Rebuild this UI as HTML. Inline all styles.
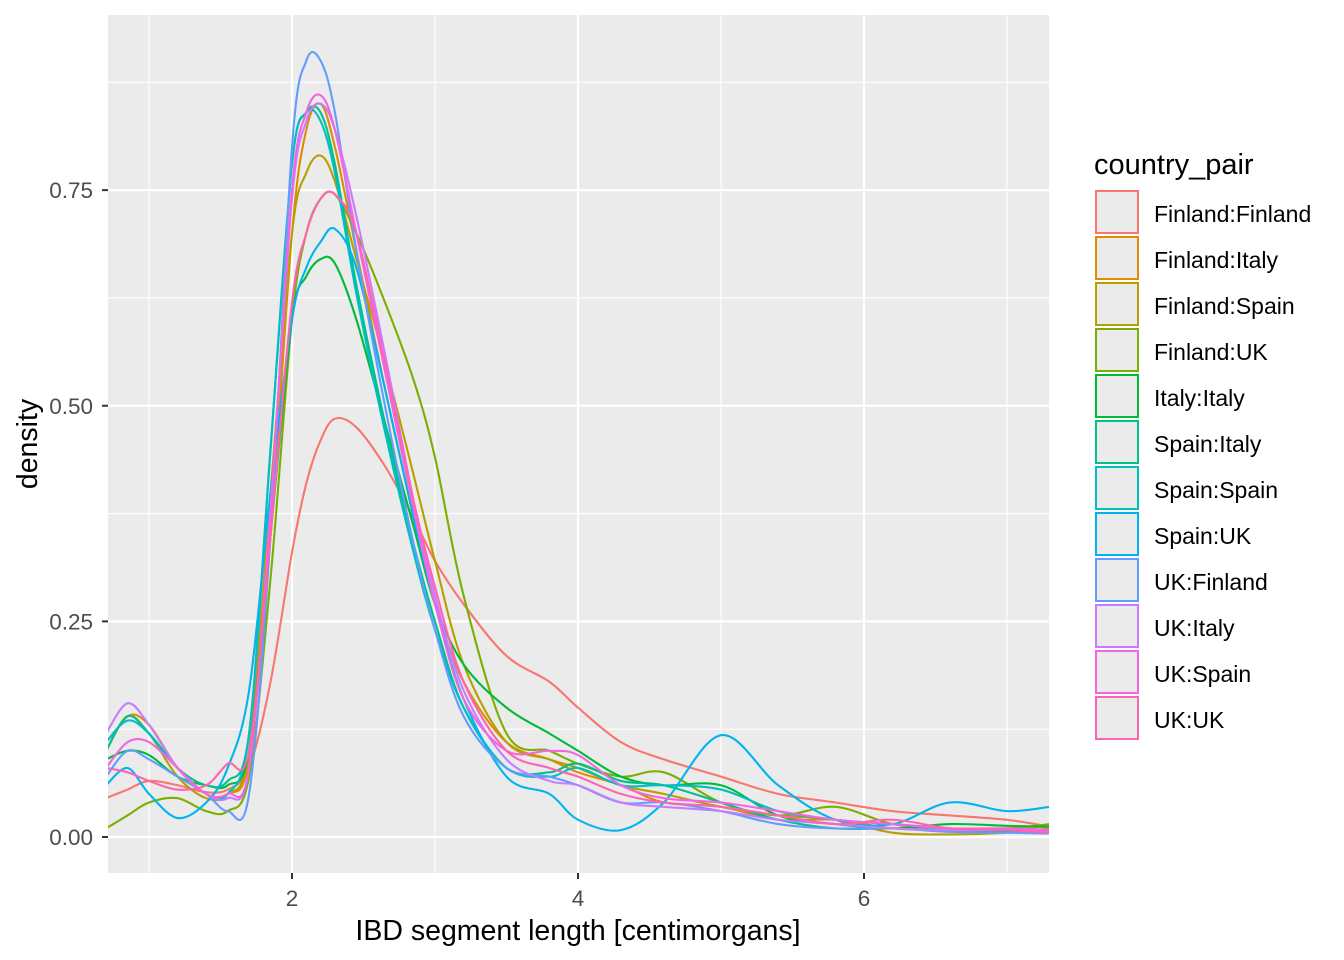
<!DOCTYPE html>
<html><head><meta charset="utf-8"><style>
body{margin:0;background:#fff;font-family:"Liberation Sans",Arial,sans-serif}
svg{display:block}
</style></head><body>
<svg id="chart" width="1344" height="960">
<defs><clipPath id="pc"><rect x="108" y="15" width="941" height="858"/></clipPath></defs>
<rect x="108" y="15" width="941" height="858" fill="#EBEBEB"/>
<g id="grid"></g>
<g id="series" clip-path="url(#pc)"></g>
<g id="axes"></g>
<text x="578" y="940" font-size="28.5" text-anchor="middle" fill="#000">IBD segment length [centimorgans]</text>
<text transform="translate(37,444) rotate(-90)" font-size="28.5" text-anchor="middle" fill="#000">density</text>
<g id="legend">
<text x="1094" y="174" font-size="29" fill="#000">country_pair</text>
</g>
</svg>
<script>
const names=["Finland:Finland","Finland:Italy","Finland:Spain","Finland:UK","Italy:Italy","Spain:Italy","Spain:Spain","Spain:UK","UK:Finland","UK:Italy","UK:Spain","UK:UK"];
const colors=["#F8766D","#DE8C00","#B79F00","#7CAE00","#00BA38","#00C08B","#00BFC4","#00B4F0","#619CFF","#C77CFF","#F564E3","#FF64B0"];
const xGrid=[0.7,0.85,1.0,1.2,1.4,1.55,1.7,1.85,2.0,2.1,2.2,2.3,2.45,2.65,2.85,3.0,3.2,3.5,3.8,4.0,4.3,4.6,5.0,5.4,5.8,6.2,6.6,7.0,7.3];
const sFF=[0.045,0.055,0.065,0.06,0.052,0.055,0.08,0.18,0.33,0.41,0.46,0.485,0.475,0.43,0.37,0.32,0.27,0.21,0.18,0.15,0.11,0.09,0.07,0.05,0.04,0.03,0.025,0.02,0.012];
const sFI=[0.1,0.14,0.13,0.08,0.05,0.05,0.09,0.35,0.7,0.82,0.85,0.8,0.68,0.52,0.37,0.27,0.18,0.11,0.09,0.075,0.06,0.04,0.035,0.02,0.02,0.01,0.008,0.01,0.012];
const sFS=[0.1,0.14,0.12,0.07,0.045,0.05,0.1,0.4,0.7,0.77,0.79,0.76,0.67,0.55,0.42,0.32,0.2,0.11,0.09,0.08,0.06,0.05,0.035,0.025,0.02,0.005,0.003,0.005,0.01];
const sFU=[0.01,0.025,0.04,0.045,0.03,0.03,0.07,0.3,0.6,0.7,0.74,0.745,0.7,0.62,0.53,0.44,0.28,0.12,0.1,0.085,0.07,0.075,0.04,0.025,0.035,0.015,0.01,0.01,0.015];
const sII=[0.09,0.1,0.095,0.07,0.06,0.06,0.1,0.35,0.6,0.65,0.67,0.665,0.6,0.48,0.36,0.27,0.2,0.15,0.12,0.1,0.07,0.06,0.06,0.025,0.015,0.01,0.015,0.013,0.012];
const sSI=[0.1,0.14,0.12,0.08,0.06,0.065,0.12,0.45,0.78,0.84,0.84,0.78,0.64,0.48,0.34,0.25,0.15,0.08,0.075,0.085,0.065,0.06,0.04,0.02,0.01,0.01,0.008,0.006,0.005];
const sSS=[0.11,0.135,0.12,0.08,0.05,0.05,0.12,0.45,0.78,0.84,0.83,0.77,0.63,0.47,0.33,0.24,0.15,0.08,0.07,0.08,0.06,0.06,0.055,0.03,0.02,0.015,0.01,0.008,0.006];
const sSU=[0.06,0.08,0.05,0.022,0.04,0.08,0.17,0.4,0.6,0.66,0.69,0.705,0.66,0.52,0.37,0.27,0.16,0.07,0.05,0.02,0.008,0.04,0.118,0.06,0.02,0.015,0.04,0.03,0.035];
const sUF=[0.07,0.1,0.09,0.07,0.05,0.03,0.05,0.35,0.8,0.9,0.9,0.84,0.68,0.5,0.34,0.24,0.14,0.08,0.07,0.06,0.04,0.04,0.03,0.015,0.01,0.01,0.006,0.005,0.004];
const sUI=[0.12,0.155,0.13,0.08,0.05,0.045,0.08,0.38,0.74,0.83,0.85,0.82,0.72,0.56,0.39,0.28,0.17,0.09,0.065,0.06,0.04,0.035,0.03,0.02,0.015,0.01,0.008,0.008,0.006];
const sUS=[0.08,0.11,0.11,0.08,0.05,0.05,0.08,0.38,0.75,0.84,0.86,0.82,0.7,0.54,0.38,0.27,0.16,0.1,0.1,0.095,0.06,0.045,0.04,0.03,0.02,0.015,0.01,0.01,0.008];
const sUU=[0.08,0.075,0.065,0.055,0.06,0.085,0.1,0.35,0.62,0.7,0.74,0.745,0.7,0.55,0.39,0.29,0.18,0.1,0.08,0.07,0.05,0.04,0.035,0.025,0.015,0.02,0.01,0.008,0.005];
const seriesVals=[sFF,sFI,sFS,sFU,sII,sSI,sSS,sSU,sUF,sUI,sUS,sUU];
const xTicks=[2,4,6];
const xMinor=[1,3,5,7];
const yTicks=[0,0.25,0.5,0.75];
const yTickLabels=["0.00","0.25","0.50","0.75"];
const yMinor=[0.125,0.375,0.625,0.875];

const X=v=>292+(v-2)*143;
const Y=v=>837-v*862.5;
const NS="http://www.w3.org/2000/svg";
function mk(tag,attrs,parent){const e=document.createElementNS(NS,tag);for(const k in attrs)e.setAttribute(k,attrs[k]);parent.appendChild(e);return e;}
const grid=document.getElementById('grid'),axes=document.getElementById('axes'),ser=document.getElementById('series'),leg=document.getElementById('legend');
xMinor.forEach(v=>{const l=mk('line',{x1:X(v),x2:X(v),y1:15,y2:873,stroke:'#fff','stroke-width':1.1},grid);

});
yMinor.forEach(v=>{const l=mk('line',{x1:108,x2:1049,y1:Y(v),y2:Y(v),stroke:'#fff','stroke-width':1.1},grid);

});
xTicks.forEach(v=>{const l=mk('line',{x1:X(v),x2:X(v),y1:15,y2:873,stroke:'#fff','stroke-width':2.2},grid);


const t=mk('line',{x1:X(v),x2:X(v),y1:873,y2:879,stroke:'#333','stroke-width':2},axes);


const tx=mk('text',{x:X(v),y:906,'font-size':22.5,'text-anchor':'middle',fill:'#4D4D4D'},axes);tx.textContent=v;

});
yTicks.forEach((v,i)=>{const l=mk('line',{x1:108,x2:1049,y1:Y(v),y2:Y(v),stroke:'#fff','stroke-width':2.2},grid);


const t=mk('line',{x1:102,x2:108,y1:Y(v),y2:Y(v),stroke:'#333','stroke-width':2},axes);


const tx=mk('text',{x:93,y:Y(v)+8,'font-size':22.5,'text-anchor':'end',fill:'#4D4D4D'},axes);tx.textContent=yTickLabels[i];

});
function path(xs,ys){const p=xs.map((x,i)=>[X(x),Y(Math.max(0,ys[i]))]);let d='M'+p[0][0]+','+p[0][1];
for(let i=0;i<p.length-1;i++){const p0=p[i-1]||p[i],p1=p[i],p2=p[i+1],p3=p[i+2]||p2;
const c1x=p1[0]+(p2[0]-p0[0])/6,c1y=p1[1]+(p2[1]-p0[1])/6,c2x=p2[0]-(p3[0]-p1[0])/6,c2y=p2[1]-(p3[1]-p1[1])/6;
d+=` C${c1x},${c1y} ${c2x},${c2y} ${p2[0]},${p2[1]}`;}return d;}
seriesVals.forEach((vals,i)=>{const e=mk('path',{d:path(xGrid,vals),fill:'none',stroke:colors[i],'stroke-width':2.1},ser);


const y0=191+i*46;
const k=mk('rect',{x:1096,y:y0,width:42,height:42,fill:'#EBEBEB',stroke:colors[i],'stroke-width':2},leg);


const t=mk('text',{x:1154,y:y0+31,'font-size':23,fill:'#000'},leg);t.textContent=names[i];

});
</script>
</body></html>
